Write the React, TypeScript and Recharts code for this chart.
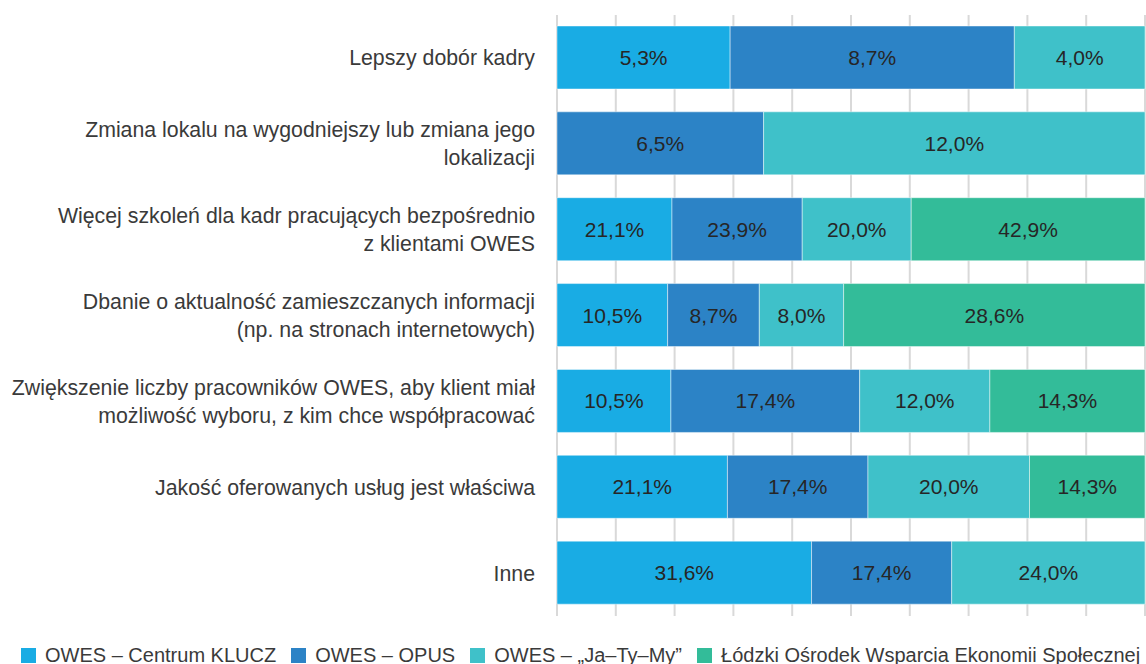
import React from 'react'
import { BarChart, Bar, XAxis, YAxis, CartesianGrid, Legend, LabelList } from 'recharts'

const categories = [
  'Lepszy dobór kadry',
  'Zmiana lokalu na wygodniejszy lub zmiana jego\nlokalizacji',
  'Więcej szkoleń dla kadr pracujących bezpośrednio\nz klientami OWES',
  'Dbanie o aktualność zamieszczanych informacji\n(np. na stronach internetowych)',
  'Zwiększenie liczby pracowników OWES, aby klient miał\nmożliwość wyboru, z kim chce współpracować',
  'Jakość oferowanych usług jest właściwa',
  'Inne',
]

const seriesNames = [
  'OWES – Centrum KLUCZ',
  'OWES – OPUS',
  'OWES – „Ja–Ty–My”',
  'Łódzki Ośrodek Wsparcia Ekonomii Społecznej',
]

const klucz = [5.3, null, 21.1, 10.5, 10.5, 21.1, 31.6]
const opus = [8.7, 6.5, 23.9, 8.7, 17.4, 17.4, 17.4]
const jaTyMy = [4.0, 12.0, 20.0, 8.0, 12.0, 20.0, 24.0]
const lowes = [null, null, 42.9, 28.6, 14.3, 14.3, null]

const xTicks = [0, 0.1, 0.2, 0.3, 0.4, 0.5, 0.6, 0.7, 0.8, 0.9, 1]

const colors = ['#19ace4', '#2c83c6', '#3fc1c9', '#33bc99']
const keys = ['s0', 's1', 's2', 's3']

const data = categories.map((name, i) => ({
  name,
  s0: klucz[i],
  s1: opus[i],
  s2: jaTyMy[i],
  s3: lowes[i],
}))

const FONT = '"Liberation Sans", Arial, sans-serif'

const fmt = (v: number | null | undefined) =>
  v == null ? '' : v.toFixed(1).replace('.', ',') + '%'

const CategoryTick = (props: any) => {
  const { x, y, payload } = props
  const lines = String(payload.value).split('\n')
  const lh = 28
  const start = y - ((lines.length - 1) * lh) / 2
  return (
    <text x={x} y={start} textAnchor="end" fill="#3a3a3a" fontSize={21.3} fontFamily={FONT}>
      {lines.map((l, i) => (
        <tspan key={i} x={x} y={start + i * lh} dy="0.35em">
          {l}
        </tspan>
      ))}
    </text>
  )
}

const LegendContent = () => (
  <div style={{ display: 'flex', alignItems: 'center', fontFamily: FONT, fontSize: 20, color: '#3a3a3a', paddingLeft: 21, whiteSpace: 'nowrap' }}>
    {seriesNames.map((n, i) => (
      <div key={n} style={{ display: 'flex', alignItems: 'center', marginRight: 15 }}>
        <span style={{ width: 15, height: 15, background: colors[i], display: 'inline-block', marginRight: 9 }} />
        <span>{n}</span>
      </div>
    ))}
  </div>
)

export default function App() {
  return (
    <div style={{ position: 'absolute', left: 0, top: 0 }}>
      <BarChart
        width={1146}
        height={680}
        data={data}
        layout="vertical"
        stackOffset="expand"
        barSize={63}
        margin={{ top: 15, right: 1, bottom: 40, left: 0 }}
      >
        <CartesianGrid horizontal={false} stroke="#d9d9d9" strokeWidth={2} />
        <XAxis type="number" domain={[0, 1]} ticks={xTicks} hide />
        <YAxis
          type="category"
          dataKey="name"
          width={557}
          axisLine={false}
          tickLine={false}
          tickSize={0}
          tickMargin={22}
          interval={0}
          tick={<CategoryTick />}
        />
        <Legend
          verticalAlign="bottom"
          content={<LegendContent />}
          wrapperStyle={{ position: 'absolute', top: 644, left: 0, width: 1146, height: 24 }}
        />
        {keys.map((k, si) => (
          <Bar
            key={k}
            dataKey={k}
            name={seriesNames[si]}
            stackId="a"
            fill={colors[si]}
            stroke="rgba(255,255,255,0.45)"
            strokeWidth={1}
            isAnimationActive={false}
          >
            <LabelList
              dataKey={k}
              position="center"
              fill="#262626"
              fontSize={21}
              fontFamily={FONT}
              formatter={(v: any) => fmt(v as number)}
            />
          </Bar>
        ))}
      </BarChart>
    </div>
  )
}
